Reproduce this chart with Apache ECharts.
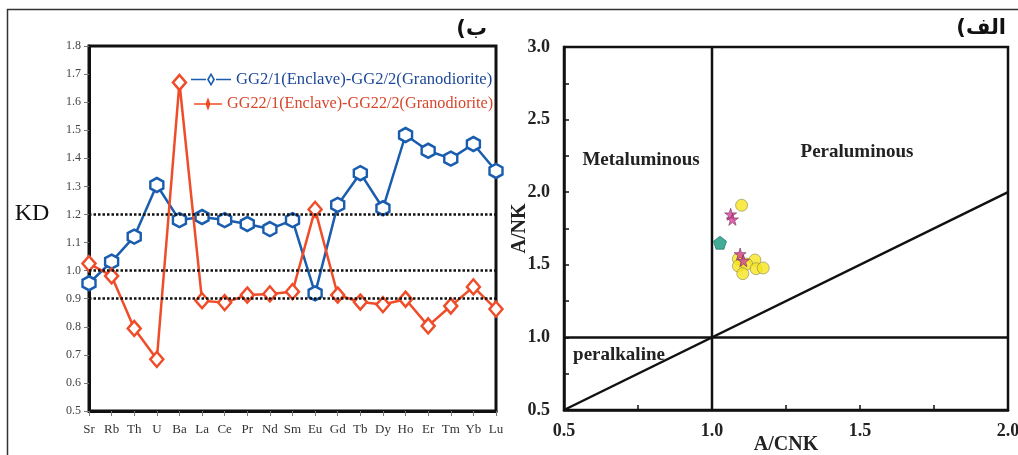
<!DOCTYPE html>
<html>
<head>
<meta charset="utf-8">
<script src="https://cdn.jsdelivr.net/npm/echarts@6/dist/echarts.min.js"></script>
<style>html,body{margin:0;padding:0;background:#fff;}#c{width:1018px;height:455px;}</style>
</head>
<body>
<div id="c"></div>
<script>
// ---- Left chart (KD spider diagram) ----
var elements = ['Sr','Rb','Th','U','Ba','La','Ce','Pr','Nd','Sm','Eu','Gd','Tb','Dy','Ho','Er','Tm','Yb','Lu'];
var kdGG2  = [0.955,1.032,1.121,1.305,1.180,1.191,1.180,1.166,1.148,1.180,0.919,1.234,1.347,1.222,1.483,1.427,1.399,1.451,1.355];
var kdGG22 = [1.025,0.981,0.794,0.684,1.670,0.893,0.886,0.913,0.917,0.925,1.218,0.913,0.888,0.879,0.898,0.803,0.874,0.942,0.863];
var kdRefLines = [1.2, 1.0, 0.9];
var nameGG2  = 'GG2/1(Enclave)-GG2/2(Granodiorite)';
var nameGG22 = 'GG22/1(Enclave)-GG22/2(Granodiorite)';

// ---- Right chart (A/CNK vs A/NK) ----
var circleACNK = [1.100,1.089,1.145,1.089,1.117,1.149,1.173,1.104];
var circleANK  = [1.910,1.540,1.533,1.492,1.505,1.473,1.478,1.439];
var starACNK = [1.063,1.069,1.095,1.106];
var starANK  = [1.848,1.813,1.574,1.528];
var pentACNK = [1.027];
var pentANK  = [1.652];
var divVertical   = [[1.0,0.5],[1.0,3.0]];
var divHorizontal = [[0.5,1.0],[2.0,1.0]];
var divDiagonal   = [[0.5,0.5],[2.0,2.0]];

function zip(a,b){ return a.map(function(v,i){ return [v,b[i]]; }); }

var BLUE = '#1a5cae', RED = '#ef4d2a';
var SERIF = '"Liberation Serif","Times New Roman",serif';
var hexPath = 'path://M5,0 L10,2.9 L10,8.7 L5,11.6 L0,8.7 L0,2.9 Z';
var starPath = 'path://M50,0 L61,35 L98,35 L68,57 L79,91 L50,70 L21,91 L32,57 L2,35 L39,35 Z';
var pentPath = 'path://M50,0 L98,35 L79,91 L21,91 L2,35 Z';
var legBlue = 'path://M0,6 L15,6 L15,7.5 L0,7.5 Z M25,6 L40,6 L40,7.5 L25,7.5 Z M20,0 L24,6.75 L20,13.5 L16,6.75 Z M20,3 L18,6.75 L20,10.5 L22,6.75 Z';
var legRed = 'path://M0,6 L12,6 L12,7.5 L0,7.5 Z M16,6 L28,6 L28,7.5 L16,7.5 Z M14,0 L16.5,6.75 L14,13.5 L11.5,6.75 Z';

var chart = echarts.init(document.getElementById('c'), null, {renderer:'canvas'});
var option = {
  backgroundColor: '#fff',
  animation: false,
  legend: [
    { left: 186, top: 66, orient: 'vertical', itemWidth: 40, itemHeight: 14, itemGap: 5,
      data: [{ name: nameGG2, icon: legBlue, itemStyle: { color: BLUE, borderWidth: 0 } }],
      textStyle: { fontFamily: SERIF, fontSize: 16.6, color: '#1d4797' } },
    { left: 189, top: 91, orient: 'vertical', itemWidth: 28, itemHeight: 14,
      data: [{ name: nameGG22, icon: legRed, itemStyle: { color: RED, borderWidth: 0 } }],
      textStyle: { fontFamily: SERIF, fontSize: 16.2, color: '#d8452a' } }
  ],
  grid: [
    { left: 89, top: 46, width: 407, height: 365, show: true, borderColor: '#111', borderWidth: 3,
      backgroundColor: 'transparent', outerBoundsMode: 'none', containLabel: false },
    { left: 564, top: 47, width: 444, height: 363, show: true, borderColor: '#111', borderWidth: 2.5,
      backgroundColor: 'transparent', outerBoundsMode: 'none', containLabel: false }
  ],
  xAxis: [
    { type: 'category', gridIndex: 0, data: elements, boundaryGap: false,
      axisLine: { lineStyle: { color: '#111', width: 3 } },
      axisTick: { show: true, length: 5, lineStyle: { color: '#777', width: 1 } },
      axisLabel: { margin: 12, fontFamily: SERIF, fontSize: 13, color: '#333', interval: 0 },
      splitLine: { show: false } },
    { type: 'value', gridIndex: 1, min: 0.5, max: 2.0, interval: 0.5,
      name: 'A/CNK', nameLocation: 'middle', nameGap: 25, nameMoveOverlap: false,
      nameTextStyle: { fontFamily: SERIF, fontWeight: 'bold', fontSize: 20, color: '#222' },
      axisLine: { lineStyle: { color: '#111', width: 2.5 } },
      axisTick: { show: true, inside: true, length: 5, lineStyle: { color: '#111', width: 1.5 } },
      minorTick: { show: true, splitNumber: 2, length: 5, lineStyle: { color: '#111', width: 1.5 } },
      axisLabel: { margin: 12, fontFamily: SERIF, fontWeight: 'bold', fontSize: 18, color: '#222',
        formatter: function(v){ return v.toFixed(1); } },
      splitLine: { show: false } }
  ],
  yAxis: [
    { type: 'value', gridIndex: 0, min: 0.5, max: 1.8, interval: 0.1,
      axisLine: { show: true, lineStyle: { color: '#111', width: 3 } },
      axisTick: { show: true, length: 5, lineStyle: { color: '#777', width: 1 } },
      axisLabel: { margin: 8, fontFamily: SERIF, fontSize: 12, color: '#444',
        formatter: function(v){ return v.toFixed(1); } },
      splitLine: { show: false } },
    { type: 'value', gridIndex: 1, min: 0.5, max: 3.0, interval: 0.5,
      name: 'A/NK', nameLocation: 'middle', nameGap: 34, nameRotate: 90, nameMoveOverlap: false,
      nameTextStyle: { fontFamily: SERIF, fontWeight: 'bold', fontSize: 20, color: '#222' },
      axisLine: { show: true, lineStyle: { color: '#111', width: 2.5 } },
      axisTick: { show: true, inside: true, length: 5, lineStyle: { color: '#111', width: 1.5 } },
      minorTick: { show: true, splitNumber: 2, length: 5, lineStyle: { color: '#111', width: 1.5 } },
      axisLabel: { margin: 14, fontFamily: SERIF, fontWeight: 'bold', fontSize: 18, color: '#222',
        formatter: function(v){ return v.toFixed(1); } },
      splitLine: { show: false } }
  ],
  series: [
    { name: nameGG2, type: 'line', xAxisIndex: 0, yAxisIndex: 0, data: kdGG2,
      symbol: hexPath, symbolSize: [13, 14], showAllSymbol: true, clip: false, z: 3,
      lineStyle: { color: BLUE, width: 2.5 },
      itemStyle: { color: '#fff', borderColor: BLUE, borderWidth: 2.5 },
      markLine: { silent: true, symbol: 'none', label: { show: false },
        lineStyle: { color: '#111', type: [2.5, 2], width: 2.5 },
        data: kdRefLines.map(function(v){ return { yAxis: v }; }) } },
    { name: nameGG22, type: 'line', xAxisIndex: 0, yAxisIndex: 0, data: kdGG22,
      symbol: 'diamond', symbolSize: [13, 15], showAllSymbol: true, clip: false, z: 4,
      lineStyle: { color: RED, width: 2.5 },
      itemStyle: { color: '#fff', borderColor: RED, borderWidth: 2.5 } },

    { type: 'line', xAxisIndex: 1, yAxisIndex: 1, data: divVertical, symbol: 'none', silent: true,
      lineStyle: { color: '#111', width: 2.5 } },
    { type: 'line', xAxisIndex: 1, yAxisIndex: 1, data: divHorizontal, symbol: 'none', silent: true,
      lineStyle: { color: '#111', width: 2.5 } },
    { type: 'line', xAxisIndex: 1, yAxisIndex: 1, data: divDiagonal, symbol: 'none', silent: true,
      lineStyle: { color: '#111', width: 2.5 } },
    { type: 'scatter', xAxisIndex: 1, yAxisIndex: 1, data: zip(circleACNK, circleANK), symbol: 'circle', symbolSize: 12, z: 5,
      itemStyle: { color: '#f7e51c', borderColor: '#8b8a5a', borderWidth: 0.8 } },
    { type: 'scatter', xAxisIndex: 1, yAxisIndex: 1, data: zip(pentACNK, pentANK), symbol: pentPath, symbolSize: 13, z: 6,
      itemStyle: { color: '#14977f', borderColor: '#0e6a5a', borderWidth: 0.8 } },
    { type: 'scatter', xAxisIndex: 1, yAxisIndex: 1, data: zip(starACNK, starANK), symbol: starPath, symbolSize: 12, z: 7,
      itemStyle: { color: '#d4449c', borderColor: '#7a2a5a', borderWidth: 0.8 } }
  ],
  graphic: [
    { type: 'line', shape: { x1: 7, y1: 9.5, x2: 1018, y2: 9.5 }, style: { stroke: '#333', lineWidth: 1.5 }, silent: true },
    { type: 'line', shape: { x1: 7.5, y1: 9, x2: 7.5, y2: 455 }, style: { stroke: '#333', lineWidth: 1.5 }, silent: true },
    { type: 'text', style: { text: 'KD', x: 32, y: 214, textAlign: 'center', textVerticalAlign: 'middle',
        font: '24px ' + SERIF, fill: '#111' } },
    { type: 'text', style: { text: 'ب)\u200F', x: 487, y: 30, textAlign: 'right', textVerticalAlign: 'middle',
        font: 'bold 21px "DejaVu Sans", sans-serif', fill: '#111' } },
    { type: 'text', style: { text: 'الف)\u200F', x: 1006, y: 29, textAlign: 'right', textVerticalAlign: 'middle',
        font: 'bold 21px "DejaVu Sans", sans-serif', fill: '#111' } },
    { type: 'text', style: { text: 'Metaluminous', x: 641, y: 160, textAlign: 'center', textVerticalAlign: 'middle',
        font: 'bold 19px ' + SERIF, fill: '#222' } },
    { type: 'text', style: { text: 'Peraluminous', x: 857, y: 152, textAlign: 'center', textVerticalAlign: 'middle',
        font: 'bold 19px ' + SERIF, fill: '#222' } },
    { type: 'text', style: { text: 'peralkaline', x: 619, y: 355, textAlign: 'center', textVerticalAlign: 'middle',
        font: 'bold 19px ' + SERIF, fill: '#222' } }
  ]
};
chart.setOption(option);
</script>
</body>
</html>
